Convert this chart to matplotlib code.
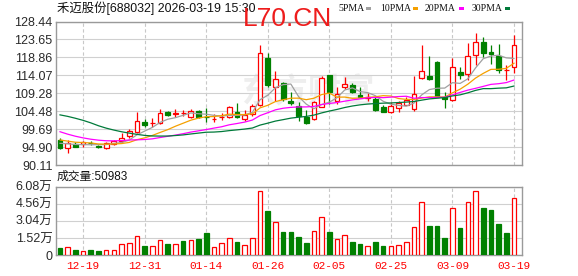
import matplotlib
matplotlib.use('Agg')
import matplotlib.pyplot as plt
from matplotlib.patches import Rectangle
import numpy as np

# ---------------- data ----------------
dates = ['12-16', '12-17', '12-18', '12-19', '12-22', '12-23', '12-24', '12-25', '12-26', '12-29',
         '12-30', '12-31', '01-05', '01-06', '01-07', '01-08', '01-09', '01-12', '01-13', '01-14',
         '01-15', '01-16', '01-19', '01-20', '01-21', '01-22', '01-23', '01-26', '01-27', '01-28',
         '01-29', '01-30', '02-02', '02-03', '02-04', '02-05', '02-06', '02-09', '02-10', '02-11',
         '02-12', '02-13', '02-24', '02-25', '02-26', '02-27', '03-02', '03-03', '03-04', '03-05',
         '03-06', '03-09', '03-10', '03-11', '03-12', '03-13', '03-16', '03-17', '03-18', '03-19']

opens = [96.79, 94.57, 95.72, 95.72, 96.00, 95.20, 94.57, 95.72, 96.52, 97.94,
         99.00, 101.68, 101.25, 101.25, 104.35, 103.85, 103.90, 103.02, 104.53, 102.95,
         102.30, 102.95, 103.02, 104.35, 102.32, 103.73, 106.14, 118.61, 111.03, 111.93,
         107.21, 105.90, 103.02, 102.32, 105.70, 114.15, 107.10, 111.03, 111.60, 108.81,
         107.93, 107.80, 105.68, 104.35, 105.26, 106.27, 104.99, 113.27, 113.88, 117.70,
         108.35, 107.47, 115.03, 114.34, 119.49, 122.88, 120.21, 119.28, 115.40, 116.30]
highs = [97.40, 96.79, 96.30, 96.60, 96.60, 95.45, 96.30, 96.79, 98.58, 99.65,
         104.35, 102.30, 102.59, 104.99, 104.62, 104.99, 104.90, 104.99, 104.80, 105.30,
         103.70, 104.00, 105.87, 106.59, 104.80, 106.40, 122.16, 120.11, 115.22, 112.36,
         109.69, 106.90, 104.80, 107.20, 113.96, 114.15, 111.03, 113.70, 111.93, 111.03,
         109.42, 108.19, 106.14, 107.02, 107.29, 108.35, 113.88, 122.16, 119.23, 117.97,
         109.69, 118.61, 116.30, 122.83, 125.50, 124.38, 122.07, 122.30, 116.80, 124.80]
lows = [94.40, 93.40, 94.84, 94.84, 95.45, 94.57, 94.30, 95.45, 95.90, 97.24,
        98.58, 100.34, 100.34, 101.00, 103.20, 103.02, 103.10, 102.75, 102.75, 101.52,
        101.60, 102.10, 102.59, 102.59, 101.94, 103.20, 105.87, 111.03, 107.29, 107.29,
        106.14, 101.94, 101.06, 102.10, 105.52, 106.40, 106.40, 110.33, 109.42, 108.19,
        107.29, 104.62, 104.20, 104.08, 104.35, 106.14, 104.62, 113.00, 112.82, 108.19,
        105.26, 107.29, 113.08, 112.82, 116.82, 119.04, 117.01, 114.80, 112.70, 114.80]
closes = [94.57, 95.90, 95.00, 96.17, 95.90, 94.84, 95.90, 96.52, 97.40, 99.20,
          101.87, 100.80, 101.45, 104.08, 103.47, 103.95, 103.95, 104.62, 103.02, 102.85,
          102.40, 103.05, 105.52, 103.02, 103.47, 105.80, 119.95, 111.48, 113.00, 107.66,
          106.59, 103.20, 101.41, 106.90, 113.27, 109.69, 109.08, 111.75, 109.69, 108.35,
          108.35, 104.90, 104.35, 105.87, 106.59, 107.47, 109.00, 115.22, 113.00, 108.40,
          107.66, 116.21, 114.24, 119.15, 122.88, 120.03, 119.76, 115.40, 115.55, 122.10]
# closes before the visible window (estimated so the moving averages start where the picture shows)
prior_closes = [108, 110, 113, 116, 118, 115, 112, 111, 110, 112,
                109, 106, 105, 103, 100, 99, 97, 96, 96, 101,
                99, 98, 97, 97, 97.5, 96.5, 96.0, 96.3, 96.13]

volumes = [6200, 6800, 4500, 3300, 4500, 3600, 4500, 4500, 9500, 10400,
           16600, 8000, 7700, 13100, 9800, 9500, 12500, 13400, 14200, 19600,
           6800, 10400, 14800, 11600, 8600, 14800, 56700, 39200, 29100, 20800,
           20800, 16000, 10700, 21400, 33500, 20500, 13900, 17500, 11600, 9800,
           7700, 11600, 8000, 7700, 8600, 11300, 24600, 46900, 25800, 25800,
           15100, 41500, 24000, 46900, 56700, 41800, 40100, 27600, 19600, 50983]
vol_up = [0, 1, 0, 1, 0, 0, 1, 1, 1, 1, 1, 0, 1, 1, 0, 1, 0, 1, 0, 0,
          1, 1, 1, 0, 1, 1, 1, 0, 1, 0, 0, 0, 0, 1, 1, 0, 1, 1, 0, 0,
          1, 0, 0, 1, 1, 1, 1, 1, 0, 0, 0, 1, 0, 1, 1, 0, 0, 0, 0, 1]

price_ticks = [128.44, 123.65, 118.86, 114.07, 109.28, 104.48, 99.69, 94.90, 90.11]
vol_ticks = [0, 15200, 30400, 45600, 60800]
vol_tick_labels = ['0', '1.52万', '3.04万', '4.56万', '6.08万']
ma_periods = [5, 10, 20, 30]
ma_names = ['5PMA', '10PMA', '20PMA', '30PMA']
ma_colors = ['#a0a0a0', '#f5a000', '#ff00ff', '#007a3a']

title = '禾迈股份[688032] 2026-03-19 15:30'
vol_title = '成交量:50983'

# ---------------- figure ----------------
W, H = 578, 276
fig = plt.figure(figsize=(W / 100, H / 100), dpi=100)
fig.patch.set_facecolor('white')

RED = '#ff0000'
GREEN = '#008000'
GRID = '#d0d0d0'
SPINE = '#9a9a9a'
LABEL = '#2a2a2a'
NUM_FONT = ['Liberation Sans Narrow', 'Liberation Sans', 'Noto Sans CJK SC']

ax = fig.add_axes([55.5 / W, 1 - 165 / H, 466.5 / W, 143.5 / H])
axv = fig.add_axes([55.5 / W, 1 - 255 / H, 466.5 / W, 68.3 / H])

n = len(closes)
x = np.arange(n)
xlim = (-0.585, 60.04)
label_idx = list(range(3, n, 8))

for a in (ax, axv):
    a.set_xlim(*xlim)
    for s in a.spines.values():
        s.set_color(SPINE)
        s.set_linewidth(1.0)
    a.set_xticks(label_idx)
    a.grid(axis='x', color='#c8c8c8', linestyle=(0, (3, 2.2)), linewidth=0.8)
    a.grid(axis='y', color=GRID, linestyle='-', linewidth=0.8)
    a.set_axisbelow(True)
    a.tick_params(length=0)

# price panel
ax.set_ylim(price_ticks[-1], price_ticks[0])
ax.set_yticks(price_ticks)
ax.set_yticklabels(['%.2f' % t for t in price_ticks], family=NUM_FONT, fontsize=9, color=LABEL)
ax.tick_params(axis='y', pad=2.2)
ax.set_xticklabels([])

# watermark
ax.text(0.541, 0.505, '东方财富', transform=ax.transAxes, ha='center', va='center',
        fontsize=24, family=['Noto Sans CJK SC'], fontweight='bold', color='#eeeeee', zorder=0.5)

body_w = 0.62
for i in range(n):
    o, h, l, c = opens[i], highs[i], lows[i], closes[i]
    up = c >= o
    col = RED if up else GREEN
    ax.vlines(x[i], l, h, color=col, linewidth=0.9, zorder=2)
    bottom = min(o, c)
    height = max(abs(c - o), 0.001)
    ax.add_patch(Rectangle((x[i] - body_w / 2, bottom), body_w, height,
                           facecolor='white' if up else GREEN, edgecolor=col,
                           linewidth=0.9, zorder=3))

all_closes = np.array(prior_closes + closes, dtype=float)
off = len(prior_closes)
for p, colr in zip(ma_periods, ma_colors):
    ma = [all_closes[off + i - p + 1: off + i + 1].mean() for i in range(n)]
    ax.plot(x, ma, color=colr, linewidth=0.9, zorder=4)

# volume panel
axv.set_ylim(0, vol_ticks[-1])
axv.set_yticks(vol_ticks)
axv.set_yticklabels(vol_tick_labels, family=NUM_FONT, fontsize=9, color=LABEL)
axv.tick_params(axis='y', pad=2.2)
axv.set_xticklabels([dates[i] for i in label_idx], family=['Liberation Mono'], fontsize=8, color=RED)
axv.tick_params(axis='x', pad=4)

vw = 0.6
for i in range(n):
    if vol_up[i]:
        axv.bar(x[i], volumes[i], width=vw, facecolor='white', edgecolor=RED, linewidth=0.9, zorder=3)
    else:
        axv.bar(x[i], volumes[i], width=vw, facecolor=GREEN, edgecolor=GREEN, linewidth=0.9, zorder=3)

# header texts
fig.text(57 / W, 1 - 8.5 / H, title, fontsize=8.9, family=['Liberation Sans', 'Noto Sans CJK SC'],
         color='#111111', va='center', ha='left')
fig.text(243 / W, 1 - 26 / H, 'L70.CN', fontsize=19, family=['Liberation Sans'],
         color='#ee1c1c', va='baseline', ha='left')

leg_x = [338.3, 380, 425, 471.7]
sq_x = [366, 413.3, 459.3, 505]
for name, lx, sx, colr in zip(ma_names, leg_x, sq_x, ma_colors):
    fig.text(lx / W, 1 - 8.7 / H, name, fontsize=7, family=['Liberation Serif'], color='#111111',
             va='center', ha='left')
    fig.patches.append(Rectangle((sx / W, 1 - 10 / H), 5 / W, 3 / H, transform=fig.transFigure,
                                 facecolor=colr, edgecolor='none'))

fig.text(57 / W, 1 - 176.7 / H, vol_title, fontsize=8.5, family=['Liberation Sans', 'Noto Sans CJK SC'],
         color='#111111', va='center', ha='left')

fig.savefig('out.png', dpi=100, facecolor='white')
